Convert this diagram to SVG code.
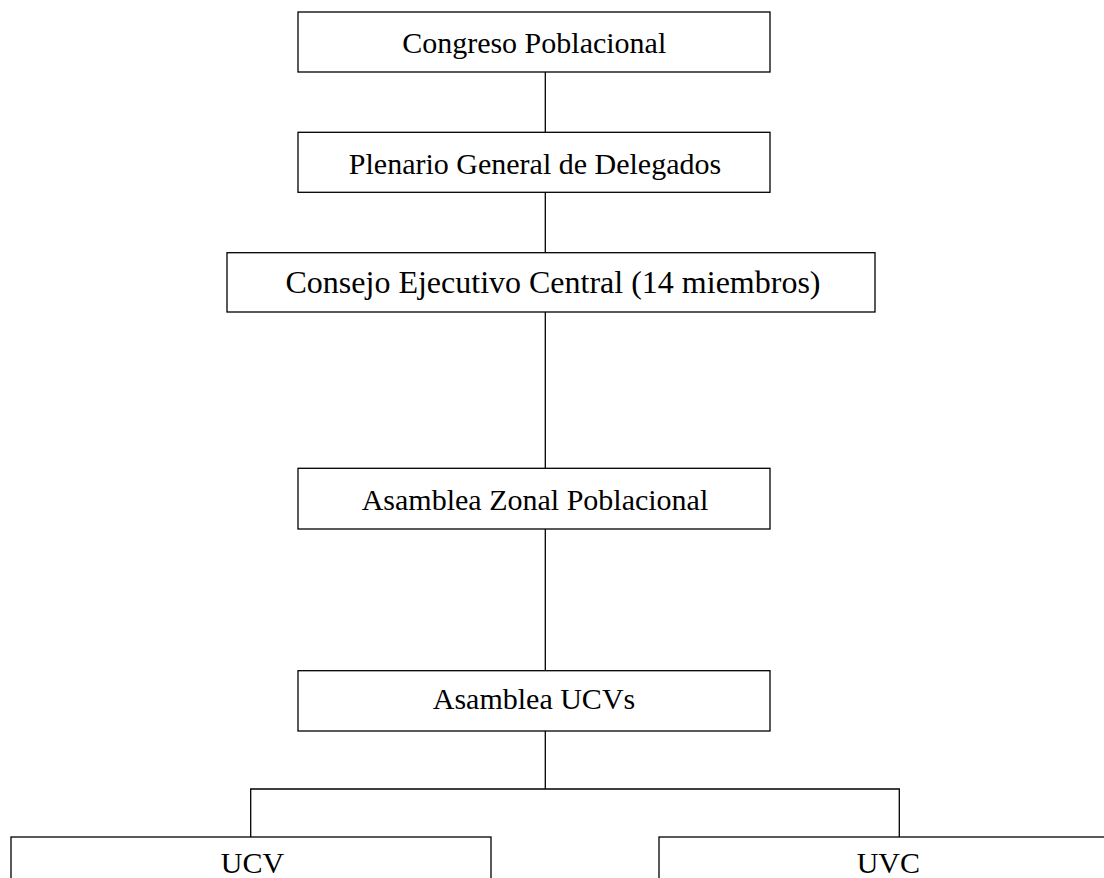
<svg xmlns="http://www.w3.org/2000/svg" width="1104" height="878" viewBox="0 0 1104 878">
<style>
.box{fill:#fff;stroke:#000;stroke-width:1.3}
.lbl{font-family:"Liberation Serif","Times New Roman",serif;font-size:30px;fill:#000;text-anchor:middle}
.con{fill:none;stroke:#000;stroke-width:1.3}
</style>
<rect width="1104" height="878" fill="#fff"/>
<g id="connectors">
<line class="con" x1="545.3" y1="72" x2="545.3" y2="132.3"/>
<line class="con" x1="545.3" y1="192.3" x2="545.3" y2="252.7"/>
<line class="con" x1="545.3" y1="312" x2="545.3" y2="468.3"/>
<line class="con" x1="545.3" y1="529" x2="545.3" y2="670.7"/>
<line class="con" x1="545.3" y1="731" x2="545.3" y2="789"/>
<polyline class="con" points="250.7,837 250.7,789 899.3,789 899.3,837"/>
</g>
<g id="n1"><rect class="box" x="298" y="12" width="472" height="60"/><text class="lbl" x="534.2" y="53.3">Congreso Poblacional</text></g>
<g id="n2"><rect class="box" x="298" y="132.3" width="472" height="60"/><text class="lbl" x="535" y="173.5">Plenario General de Delegados</text></g>
<g id="n3"><rect class="box" x="227" y="252.7" width="648" height="59.3"/><text class="lbl" x="553" y="293" style="font-size:32px">Consejo Ejecutivo Central (14 miembros)</text></g>
<g id="n4"><rect class="box" x="298" y="468.3" width="472" height="60.7"/><text class="lbl" x="535" y="510">Asamblea Zonal Poblacional</text></g>
<g id="n5"><rect class="box" x="298" y="670.7" width="472" height="60.3"/><text class="lbl" x="534" y="708.5">Asamblea UCVs</text></g>
<g id="n6"><rect class="box" x="11" y="837" width="480" height="60"/><text class="lbl" x="252.5" y="873">UCV</text></g>
<g id="n7"><rect class="box" x="659" y="837" width="480" height="60"/><text class="lbl" x="888.3" y="873">UVC</text></g>
</svg>
